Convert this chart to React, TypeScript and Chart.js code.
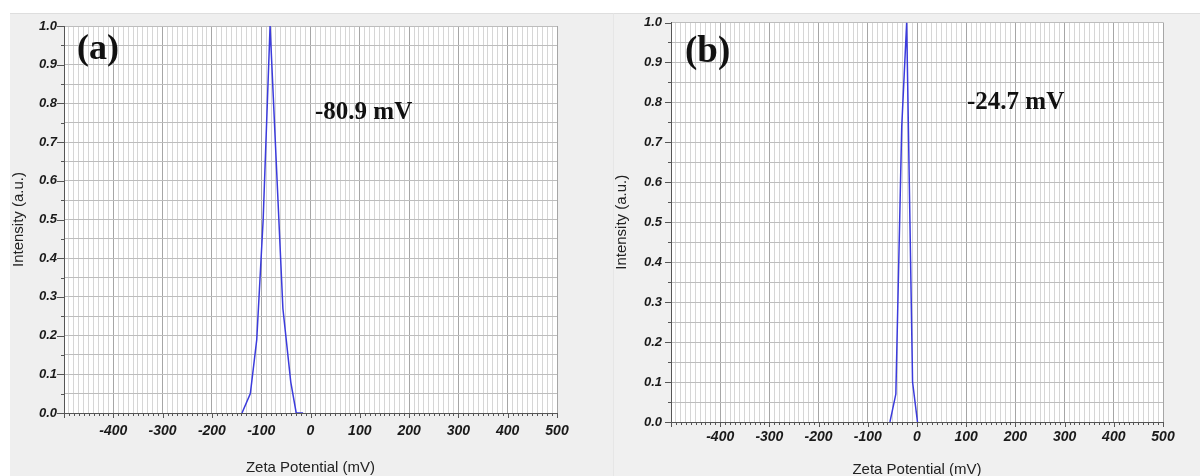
import React, { useEffect, useRef } from "react";
import { Chart, registerables } from "chart.js";

Chart.register(...registerables);

// ---- Data ----
const zetaA = [-139, -122, -109, -96, -82, -56, -40, -29, -15];
const intensityA = [0, 0.05, 0.19, 0.5, 1.0, 0.27, 0.08, 0, 0];

const zetaB = [-55, -43, -31, -21, -9, 1];
const intensityB = [0, 0.07, 0.74, 1.0, 0.1, 0];

const xTickLabels = [-400, -300, -200, -100, 0, 100, 200, 300, 400, 500];
const yTickLabels = [0, 0.1, 0.2, 0.3, 0.4, 0.5, 0.6, 0.7, 0.8, 0.9, 1.0];

const panelLabels = ["(a)", "(b)"];
const peakLabels = ["-80.9 mV", "-24.7 mV"];

const LINE_COLOR = "#3b3bdc";
const SANS = "'Liberation Sans', Arial, sans-serif";
const SERIF = "'Liberation Serif', 'Times New Roman', serif";

type PanelCfg = {
  zeta: number[];
  intensity: number[];
  width: number;
  height: number;
  yWidth: number;
  xHeight: number;
  padTop: number;
  padRight: number;
  yTickLen: number;
  yTickPad: number;
  xTickPad: number;
  xTitlePad: number;
  annotations: { text: string; x: number; y: number; font: string }[];
};

const plotBg = {
  id: "plotBg",
  beforeDraw(chart: any) {
    const { ctx, chartArea } = chart;
    ctx.save();
    ctx.fillStyle = "#ffffff";
    ctx.fillRect(chartArea.left, chartArea.top, chartArea.right - chartArea.left, chartArea.bottom - chartArea.top);
    ctx.restore();
  },
};

const tickMarks = {
  id: "tickMarks",
  afterDraw(chart: any, _args: any, opts: any) {
    const { ctx, chartArea, scales } = chart;
    const x = scales.x;
    const y = scales.y;
    ctx.save();
    ctx.strokeStyle = "#555";
    ctx.lineWidth = 1;
    ctx.beginPath();
    x.ticks.forEach((t: any) => {
      const px = Math.round(x.getPixelForValue(t.value)) + 0.5;
      const major = Math.round(t.value) % 100 === 0;
      const len = major ? 5 : 3;
      ctx.moveTo(px, chartArea.bottom);
      ctx.lineTo(px, chartArea.bottom + len);
    });
    y.ticks.forEach((t: any) => {
      const py = Math.round(y.getPixelForValue(t.value)) + 0.5;
      const major = Math.round(t.value * 100) % 10 === 0;
      const len = major ? opts.yTickLen : 3;
      ctx.moveTo(chartArea.left - len, py);
      ctx.lineTo(chartArea.left, py);
    });
    ctx.stroke();
    ctx.restore();
  },
};

const annotationsPlugin = {
  id: "annotations",
  afterDraw(chart: any, _args: any, opts: any) {
    const { ctx } = chart;
    ctx.save();
    ctx.fillStyle = "#111";
    ctx.textBaseline = "alphabetic";
    ctx.textAlign = "left";
    (opts.items || []).forEach((a: any) => {
      ctx.font = a.font;
      ctx.fillText(a.text, a.x, a.y);
    });
    ctx.restore();
  },
};

function Panel({ cfg }: { cfg: PanelCfg }) {
  const ref = useRef<HTMLCanvasElement | null>(null);
  useEffect(() => {
    if (!ref.current) return;
    const chart = new Chart(ref.current, {
      type: "scatter",
      data: {
        datasets: [
          {
            data: cfg.zeta.map((z, i) => ({ x: z, y: cfg.intensity[i] })),
            showLine: true,
            borderColor: LINE_COLOR,
            borderWidth: 1.5,
            pointRadius: 0,
            pointHoverRadius: 0,
            fill: false,
            tension: 0,
          },
        ],
      },
      options: {
        animation: false,
        responsive: false,
        maintainAspectRatio: false,
        events: [],
        layout: { padding: { top: cfg.padTop, right: cfg.padRight, left: 0, bottom: 0 } },
        plugins: {
          legend: { display: false },
          tooltip: { enabled: false },
          tickMarks: { yTickLen: cfg.yTickLen },
          annotations: { items: cfg.annotations },
        } as any,
        scales: {
          x: {
            type: "linear",
            min: -500,
            max: 500,
            ticks: {
              stepSize: 10,
              autoSkip: false,
              minRotation: 0,
              maxRotation: 0,
              padding: cfg.xTickPad,
              color: "#1a1a1a",
              font: { family: SANS, size: 14, style: "italic", weight: "bold" },
              callback: (v: any) => {
                const r = Math.round(Number(v));
                return xTickLabels.includes(r) ? String(r) : "";
              },
            },
            grid: {
              color: (c: any) =>
                c.tick && Math.round(c.tick.value) % 100 === 0 ? "#a6a6a6" : "#d6d6d6",
              lineWidth: 1,
              tickLength: 4,
              tickColor: "rgba(0,0,0,0)",
            },
            border: { color: "#555", width: 1 },
            title: {
              display: true,
              text: "Zeta Potential (mV)",
              color: "#222",
              font: { family: SANS, size: 15, weight: "normal" },
              padding: { top: 0, bottom: cfg.xTitlePad },
            },
            afterFit: (s: any) => {
              s.height = cfg.xHeight;
            },
          },
          y: {
            type: "linear",
            min: 0,
            max: 1,
            ticks: {
              stepSize: 0.05,
              autoSkip: false,
              padding: cfg.yTickPad,
              color: "#1a1a1a",
              font: { family: SANS, size: 13, style: "italic", weight: "bold", lineHeight: 1 },
              callback: (v: any) => {
                const n = Number(v);
                const hit = yTickLabels.find((t) => Math.abs(t - n) < 1e-6);
                return hit !== undefined ? hit.toFixed(1) : "";
              },
            },
            grid: {
              color: "#bdbdbd",
              lineWidth: 1,
              tickLength: cfg.yTickLen,
              tickColor: "rgba(0,0,0,0)",
            },
            border: { color: "#555", width: 1 },
            title: {
              display: true,
              text: "Intensity (a.u.)",
              color: "#222",
              font: { family: SANS, size: 15, weight: "normal" },
              padding: { top: 0, bottom: 0 },
            },
            afterFit: (s: any) => {
              s.width = cfg.yWidth;
            },
          },
        },
      } as any,
      plugins: [plotBg, tickMarks, annotationsPlugin],
    });
    return () => chart.destroy();
  }, [cfg]);
  return (
    <canvas
      ref={ref}
      width={cfg.width}
      height={cfg.height}
      style={{ width: cfg.width, height: cfg.height, display: "block" }}
    />
  );
}

const leftCfg: PanelCfg = {
  zeta: zetaA,
  intensity: intensityA,
  width: 603,
  height: 463,
  yWidth: 54,
  xHeight: 63,
  padTop: 13,
  padRight: 56,
  yTickLen: 7,
  yTickPad: 0,
  xTickPad: 6,
  xTitlePad: -1,
  annotations: [
    { text: panelLabels[0], x: 67, y: 46, font: `bold 36px ${SERIF}` },
    { text: peakLabels[0], x: 305, y: 106, font: `bold 25px ${SERIF}` },
  ],
};

const rightCfg: PanelCfg = {
  zeta: zetaB,
  intensity: intensityB,
  width: 587,
  height: 463,
  yWidth: 58,
  xHeight: 54,
  padTop: 7,
  padRight: 37,
  yTickLen: 6,
  yTickPad: 3,
  xTickPad: 3,
  xTitlePad: -3,
  annotations: [
    { text: panelLabels[1], x: 72, y: 49, font: `bold 37px ${SERIF}` },
    { text: peakLabels[1], x: 354, y: 96, font: `bold 25px ${SERIF}` },
  ],
};

export default function App() {
  return (
    <div
      style={{
        position: "fixed",
        left: 0,
        top: 0,
        width: 1200,
        height: 476,
        background: "#ffffff",
        overflow: "hidden",
      }}
    >
      <div
        style={{
          position: "absolute",
          left: 10,
          top: 13,
          width: 603,
          height: 463,
          background: "#efefef",
          borderTop: "1px solid #dedede",
          boxSizing: "border-box",
        }}
      />
      <div
        style={{
          position: "absolute",
          left: 613,
          top: 13,
          width: 587,
          height: 463,
          background: "#f0f0f0",
          borderTop: "1px solid #dedede",
          borderLeft: "1px solid #e6e6e6",
          boxSizing: "border-box",
        }}
      />
      <div style={{ position: "absolute", left: 10, top: 13 }}>
        <Panel cfg={leftCfg} />
      </div>
      <div style={{ position: "absolute", left: 613, top: 13 }}>
        <Panel cfg={rightCfg} />
      </div>
    </div>
  );
}
